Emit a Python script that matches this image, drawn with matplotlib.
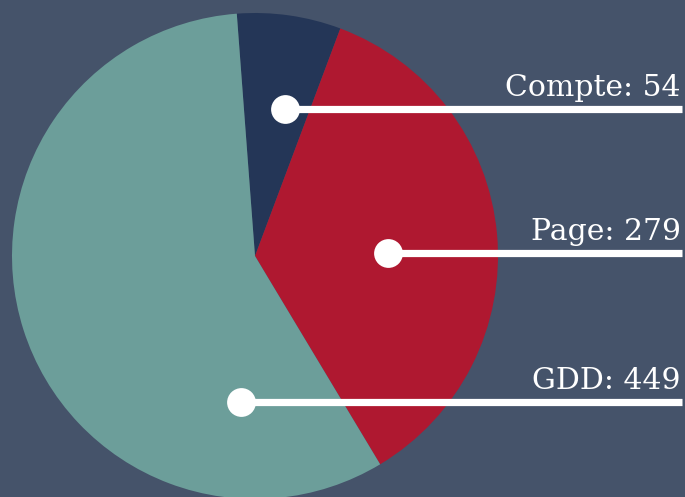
import numpy as np
import matplotlib
matplotlib.use("Agg")
import matplotlib.pyplot as plt

# ── data ──────────────────────────────────────────────────────────────────────
labels = ["Compte", "Page", "GDD"]
values = [54, 279, 449]
colors = ["#243657", "#AF1830", "#6C9E9A"]

# label anchors (dot position, in pixel coords of the figure)
dot_x = [285, 388, 241]
dot_y = [109, 253, 402]

bg = "#45536A"
W, H = 685, 497

# ── figure ────────────────────────────────────────────────────────────────────
fig = plt.figure(figsize=(W / 100, H / 100), dpi=100, facecolor=bg)
ax = fig.add_axes([0, 0, 1, 1])
ax.set_facecolor(bg)

# y axis runs downward (pixel coords), so angles are mirrored:
# first edge sits at 94.3° on screen and slices go clockwise
start = -94.3
ax.pie(values, colors=colors, startangle=start, counterclock=True,
       center=(255, 256), radius=243, frame=True,
       wedgeprops=dict(linewidth=0))
ax.set_xlim(0, W)
ax.set_ylim(H, 0)
ax.axis("off")

for lab, v, x, y in zip(labels, values, dot_x, dot_y):
    ax.plot([x, 682], [y, y], color="white", linewidth=5.2,
            solid_capstyle="butt", zorder=5)
    ax.scatter([x], [y], s=430, color="white", zorder=6, linewidths=0)
    ax.text(681, y - 13, f"{lab}: {v}", color="white", ha="right",
            va="baseline", fontsize=21.5, family="DejaVu Serif", zorder=7)

fig.savefig("out.png", dpi=100, facecolor=bg)
